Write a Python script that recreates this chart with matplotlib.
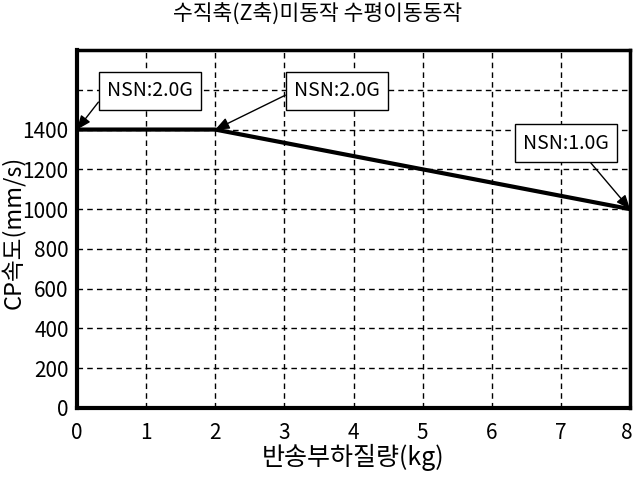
import matplotlib
matplotlib.use("Agg")
import matplotlib.pyplot as plt
from matplotlib.transforms import ScaledTranslation

plt.rcParams['font.family'] = ['Noto Sans CJK KR', 'DejaVu Sans']

title = "수직축(Z축)미동작 수평이동동작"
xlabel = "반송부하질량(kg)"
ylabel = "CP속도(mm/s)"
mass = [0, 2, 8]
speed = [1400, 1400, 1000]
xticks = [0, 1, 2, 3, 4, 5, 6, 7, 8]
yticks = [0, 200, 400, 600, 800, 1000, 1200, 1400]
ygrid = [0, 200, 400, 600, 800, 1000, 1200, 1400, 1600]
notes = ["NSN:2.0G", "NSN:2.0G", "NSN:1.0G"]
note_points = [(0, 1400), (2, 1400), (8, 1000)]
note_text_pos = [(1.056, 1594), (3.76, 1594), (7.07, 1332)]
note_relpos = [(0, 0.5), (0, 0.5), (0.7, 0)]

fig = plt.figure(figsize=(6.33, 4.79), dpi=100)
ax = fig.add_axes([77/633, 71/479, 553/633, 358/479])

ax.set_xlim(0, 8)
ax.set_ylim(0, 1800)
ax.set_xticks(xticks)
ax.set_yticks(ygrid)
ax.set_yticklabels([str(v) if v in yticks else "" for v in ygrid])
ax.tick_params(length=0, labelsize=15)
ax.tick_params(axis='y', pad=6)
ax.tick_params(axis='x', pad=10)
ax.grid(True, color='black', linestyle=(0, (4, 3)), linewidth=1)

# keep the last x tick label inside the figure
lab = ax.get_xticklabels()[-1]
lab.set_horizontalalignment('right')
lab.set_transform(lab.get_transform() + ScaledTranslation(3/100, 0, fig.dpi_scale_trans))

ax.plot(mass, speed, color='black', linewidth=3, solid_capstyle='butt', zorder=3)

for sp in ['left', 'bottom']:
    ax.spines[sp].set_linewidth(3)
for sp in ['top', 'right']:
    ax.spines[sp].set_linewidth(2.5)

for txt, pt, tp, rp in zip(notes, note_points, note_text_pos, note_relpos):
    ax.annotate(txt, xy=pt, xytext=tp, textcoords='data', fontsize=14,
                ha='center', va='center', annotation_clip=False,
                bbox=dict(boxstyle='square,pad=0.42', fc='white', ec='black', lw=1),
                arrowprops=dict(arrowstyle='-|>,head_length=0.6,head_width=0.25',
                                color='black', lw=1, shrinkA=0, shrinkB=0, relpos=rp),
                zorder=5)

fig.text(318/633, 1 - 15/479, title, fontsize=15.5, ha='center', va='center')
ax.set_xlabel(xlabel, fontsize=18, labelpad=0)
fig.text(13/633, 1 - 232/479, ylabel, fontsize=17, rotation=90,
         ha='center', va='center')

fig.savefig("out.png", dpi=100)
